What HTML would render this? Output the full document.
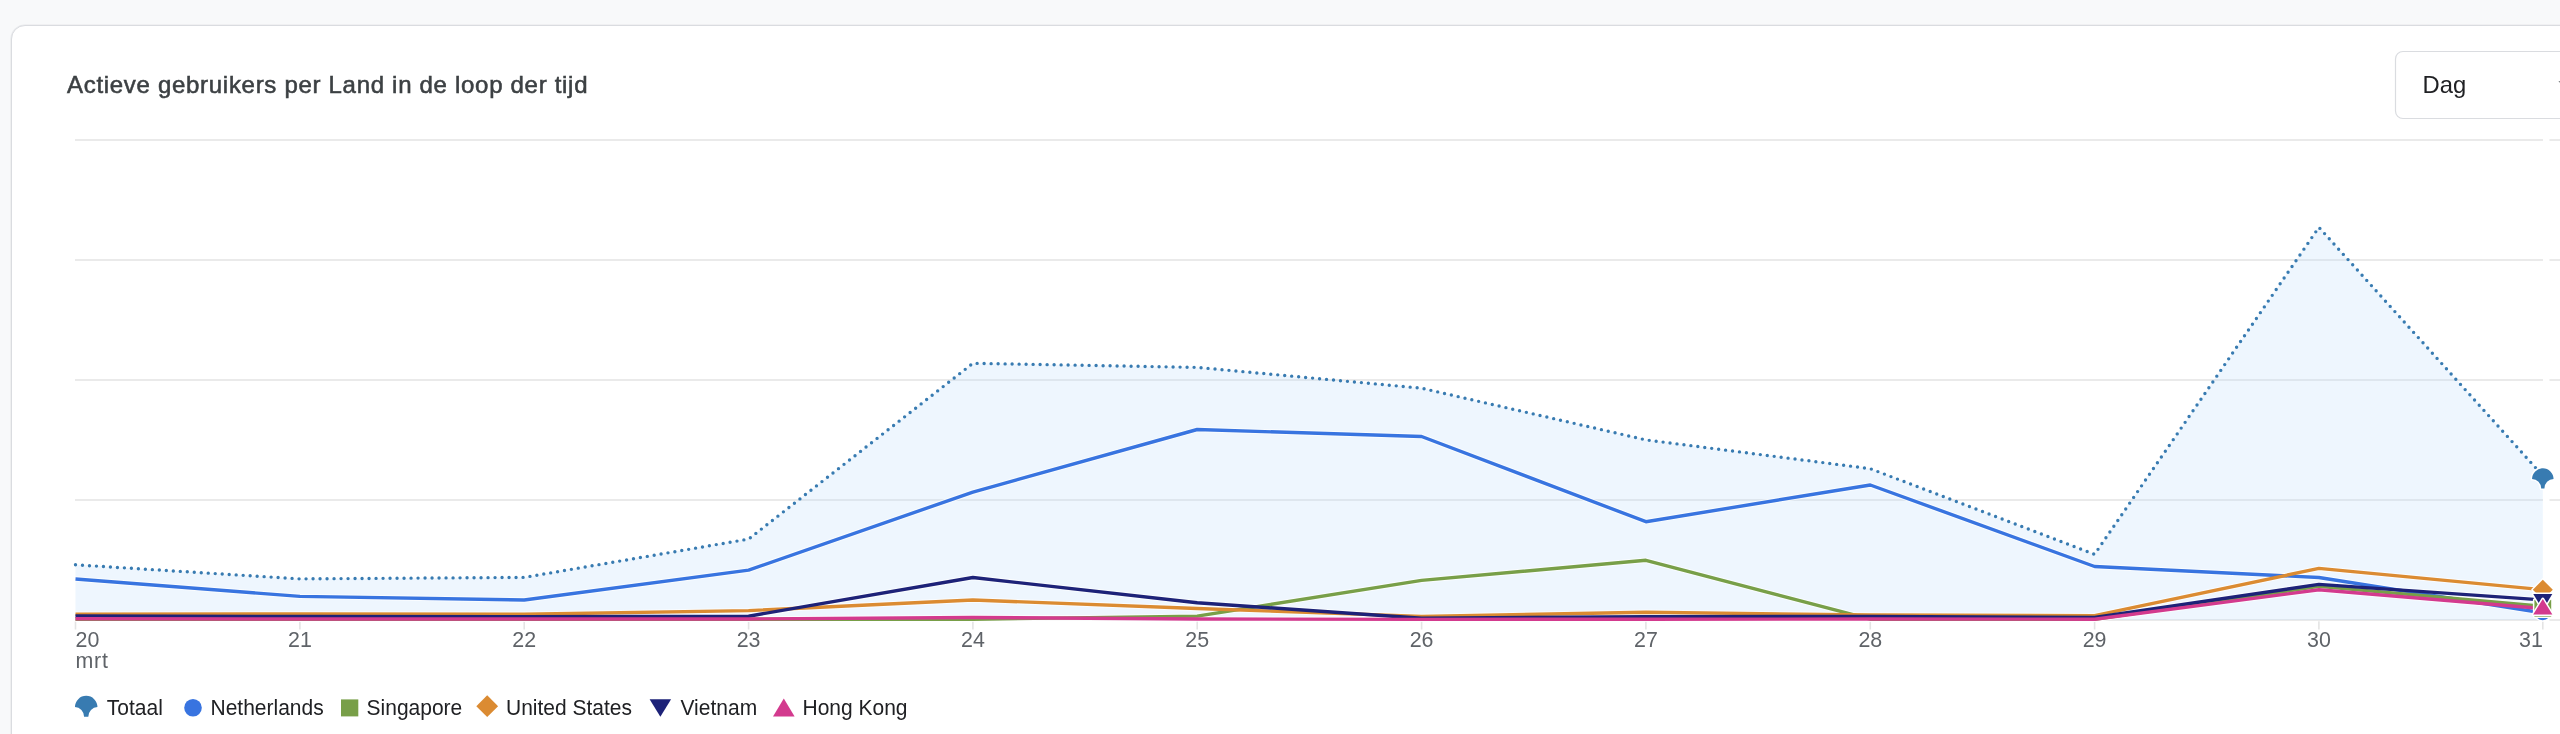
<!DOCTYPE html>
<html><head><meta charset="utf-8"><style>
html,body{margin:0;padding:0;}
body{width:2560px;height:734px;overflow:hidden;background:#f8f9fa;position:relative;font-family:"Liberation Sans",sans-serif;}
.card{position:absolute;left:11px;top:25px;width:2620px;height:800px;box-sizing:border-box;border:1px solid #dadce0;border-radius:14px;background:#fff;box-shadow:0 0 0.6px 0.6px rgba(218,220,224,0.55);}
svg{position:absolute;left:0;top:0;will-change:transform;}
.ax{font-family:"Liberation Sans",sans-serif;font-size:21.4px;fill:#5f6368;}
.lg{font-family:"Liberation Sans",sans-serif;font-size:21px;fill:#202124;}
.title{font-family:"Liberation Sans",sans-serif;font-size:24px;fill:#3c4043;stroke:#3c4043;stroke-width:0.55px;letter-spacing:0.7px;}
.dag{font-family:"Liberation Sans",sans-serif;font-size:23.8px;fill:#202124;}
</style></head><body>
<div class="card"></div>
<svg width="2560" height="734" viewBox="0 0 2560 734">
<text x="67" y="92.8" class="title">Actieve gebruikers per Land in de loop der tijd</text>
<rect x="2395.5" y="51.5" width="200" height="67" rx="7.5" ry="7.5" fill="#fff" stroke="#dadce0" stroke-width="1.2"/>
<text x="2422.5" y="93.4" class="dag">Dag</text>
<path d="M2558.4,81.2 L2568.4,81.2 L2563.4,86.2 Z" fill="#5f6368"/>
<rect x="75" y="139" width="2468" height="2" fill="#eaeaea"/><rect x="2549.5" y="139" width="20" height="2" fill="#eaeaea"/><rect x="75" y="259" width="2468" height="2" fill="#eaeaea"/><rect x="2549.5" y="259" width="20" height="2" fill="#eaeaea"/><rect x="75" y="379" width="2468" height="2" fill="#eaeaea"/><rect x="2549.5" y="379" width="20" height="2" fill="#eaeaea"/><rect x="75" y="499" width="2468" height="2" fill="#eaeaea"/><rect x="2549.5" y="499" width="20" height="2" fill="#eaeaea"/><rect x="75" y="619" width="2468" height="2" fill="#eaeaea"/><rect x="2549.5" y="619" width="20" height="2" fill="#eaeaea"/>
<polygon points="75.5,620 75.5,564.8 299.9,578.9 524.2,577.4 748.6,539.1 972.9,363.3 1197.2,367.4 1421.6,388.2 1645.9,439.9 1870.3,468.7 2094.6,554.3 2318.9,227.3 2542.8,475.7 2542.8,620" fill="rgb(187,219,251)" fill-opacity="0.25"/>
<rect x="74.7" y="621.3" width="1.6" height="8.2" fill="#e4e4e4"/><rect x="299.1" y="621.3" width="1.6" height="8.2" fill="#e4e4e4"/><rect x="523.4" y="621.3" width="1.6" height="8.2" fill="#e4e4e4"/><rect x="747.8" y="621.3" width="1.6" height="8.2" fill="#e4e4e4"/><rect x="972.1" y="621.3" width="1.6" height="8.2" fill="#e4e4e4"/><rect x="1196.4" y="621.3" width="1.6" height="8.2" fill="#e4e4e4"/><rect x="1420.8" y="621.3" width="1.6" height="8.2" fill="#e4e4e4"/><rect x="1645.1" y="621.3" width="1.6" height="8.2" fill="#e4e4e4"/><rect x="1869.5" y="621.3" width="1.6" height="8.2" fill="#e4e4e4"/><rect x="2093.8" y="621.3" width="1.6" height="8.2" fill="#e4e4e4"/><rect x="2318.1" y="621.3" width="1.6" height="8.2" fill="#e4e4e4"/><rect x="2542.0" y="621.3" width="1.6" height="8.2" fill="#e4e4e4"/>
<polyline points="75.5,564.8 299.9,578.9 524.2,577.4 748.6,539.1 972.9,363.3 1197.2,367.4 1421.6,388.2 1645.9,439.9 1870.3,468.7 2094.6,554.3 2318.9,227.3 2542.8,475.7" fill="none" stroke="#387bb1" stroke-width="3.4" stroke-linecap="round" stroke-dasharray="0 7" stroke-linejoin="round"/>
<polyline points="75.5,579.0 299.9,596.4 524.2,600.0 748.6,570.1 972.9,492.1 1197.2,429.5 1421.6,436.5 1645.9,521.7 1870.3,485.0 2094.6,566.5 2318.9,577.5 2542.8,612.9" fill="none" stroke="#fff" stroke-opacity="0.7" stroke-width="5.4" stroke-linejoin="round"/><polyline points="75.5,619.2 299.9,619.2 524.2,619.2 748.6,619.2 972.9,619.2 1197.2,616.1 1421.6,580.4 1645.9,560.3 1870.3,619.2 2094.6,619.2 2318.9,586.4 2542.8,606.3" fill="none" stroke="#fff" stroke-opacity="0.7" stroke-width="5.4" stroke-linejoin="round"/><polyline points="75.5,614.3 299.9,614.0 524.2,614.2 748.6,610.6 972.9,600.0 1197.2,608.5 1421.6,616.4 1645.9,612.2 1870.3,615.0 2094.6,615.6 2318.9,568.4 2542.8,589.7" fill="none" stroke="#fff" stroke-opacity="0.7" stroke-width="5.4" stroke-linejoin="round"/><polyline points="75.5,616.0 299.9,616.5 524.2,616.6 748.6,616.2 972.9,577.5 1197.2,602.8 1421.6,618.3 1645.9,616.6 1870.3,616.4 2094.6,617.5 2318.9,584.4 2542.8,599.9" fill="none" stroke="#fff" stroke-opacity="0.7" stroke-width="5.4" stroke-linejoin="round"/><polyline points="75.5,618.8 299.9,619.0 524.2,619.0 748.6,619.0 972.9,617.5 1197.2,619.0 1421.6,619.4 1645.9,619.2 1870.3,619.0 2094.6,619.2 2318.9,589.8 2542.8,608.5" fill="none" stroke="#fff" stroke-opacity="0.7" stroke-width="5.4" stroke-linejoin="round"/><polyline points="75.5,579.0 299.9,596.4 524.2,600.0 748.6,570.1 972.9,492.1 1197.2,429.5 1421.6,436.5 1645.9,521.7 1870.3,485.0 2094.6,566.5 2318.9,577.5 2542.8,612.9" fill="none" stroke="#3874e0" stroke-width="3.4" stroke-linejoin="round"/><polyline points="75.5,619.2 299.9,619.2 524.2,619.2 748.6,619.2 972.9,619.2 1197.2,616.1 1421.6,580.4 1645.9,560.3 1870.3,619.2 2094.6,619.2 2318.9,586.4 2542.8,606.3" fill="none" stroke="#789f48" stroke-width="3.4" stroke-linejoin="round"/><polyline points="75.5,614.3 299.9,614.0 524.2,614.2 748.6,610.6 972.9,600.0 1197.2,608.5 1421.6,616.4 1645.9,612.2 1870.3,615.0 2094.6,615.6 2318.9,568.4 2542.8,589.7" fill="none" stroke="#db8b32" stroke-width="3.4" stroke-linejoin="round"/><polyline points="75.5,616.0 299.9,616.5 524.2,616.6 748.6,616.2 972.9,577.5 1197.2,602.8 1421.6,618.3 1645.9,616.6 1870.3,616.4 2094.6,617.5 2318.9,584.4 2542.8,599.9" fill="none" stroke="#1d2278" stroke-width="3.4" stroke-linejoin="round"/><polyline points="75.5,618.8 299.9,619.0 524.2,619.0 748.6,619.0 972.9,617.5 1197.2,619.0 1421.6,619.4 1645.9,619.2 1870.3,619.0 2094.6,619.2 2318.9,589.8 2542.8,608.5" fill="none" stroke="#d33a8e" stroke-width="3.4" stroke-linejoin="round"/>

<g stroke="#fff" stroke-width="3" paint-order="stroke" stroke-linejoin="round">
<path d="M2532.05,479.00 A10.75,10.75 0 0 1 2553.55,479.00 A9.15,9.50 0 0 0 2544.40,488.50 L2541.20,488.50 A9.15,9.50 0 0 0 2532.05,479.00 Z" fill="#387bb1"/>
<circle cx="2542.8" cy="612.0" r="8.2" fill="#3874e0"/>
<rect x="2534.4" y="599.8" width="16.8" height="16.8" fill="#789f48"/>
<path d="M2542.8,579.7 L2552.8,589.7 L2542.8,599.7 L2532.8,589.7 Z" fill="#db8b32"/>
<path d="M2533.3,594.1 L2552.3,594.1 L2542.8,609.7 Z" fill="#1d2278"/>
<path d="M2542.8,599 L2552.4,614.6 L2533.2,614.6 Z" fill="#d33a8e"/>
</g>

<text x="75.5" y="647" class="ax">20</text><text x="75.5" y="668" class="ax" letter-spacing="0.8">mrt</text><text x="299.9" y="647" class="ax" text-anchor="middle">21</text><text x="524.2" y="647" class="ax" text-anchor="middle">22</text><text x="748.6" y="647" class="ax" text-anchor="middle">23</text><text x="972.9" y="647" class="ax" text-anchor="middle">24</text><text x="1197.2" y="647" class="ax" text-anchor="middle">25</text><text x="1421.6" y="647" class="ax" text-anchor="middle">26</text><text x="1645.9" y="647" class="ax" text-anchor="middle">27</text><text x="1870.3" y="647" class="ax" text-anchor="middle">28</text><text x="2094.6" y="647" class="ax" text-anchor="middle">29</text><text x="2318.9" y="647" class="ax" text-anchor="middle">30</text><text x="2542.8" y="647" class="ax" text-anchor="end">31</text>

<path d="M74.95,707.10 A11.25,11.25 0 0 1 97.45,707.10 A9.15,9.70 0 0 0 88.30,716.80 L84.10,716.80 A9.15,9.70 0 0 0 74.95,707.10 Z" fill="#387bb1"/>
<circle cx="193" cy="707.8" r="8.8" fill="#3874e0"/>
<rect x="341" y="699.4" width="17.3" height="17" fill="#789f48"/>
<path d="M487.2,695.3 L498.1,706.2 L487.2,717.1 L476.3,706.2 Z" fill="#db8b32"/>
<path d="M649.6,699.2 L671.1,699.2 L660.35,716.8 Z" fill="#1d2278"/>
<path d="M783.8,698.5 L794.6,716.5 L773,716.5 Z" fill="#d33a8e"/>
<g transform="translate(0,715) scale(1,1.07) translate(0,-715)">
<text x="106.8" y="715" class="lg">Totaal</text>
<text x="210.5" y="715" class="lg">Netherlands</text>
<text x="366.6" y="715" class="lg">Singapore</text>
<text x="506" y="715" class="lg">United States</text>
<text x="680.5" y="715" class="lg">Vietnam</text>
<text x="802.5" y="715" class="lg">Hong Kong</text>
</g>

</svg>
</body></html>
